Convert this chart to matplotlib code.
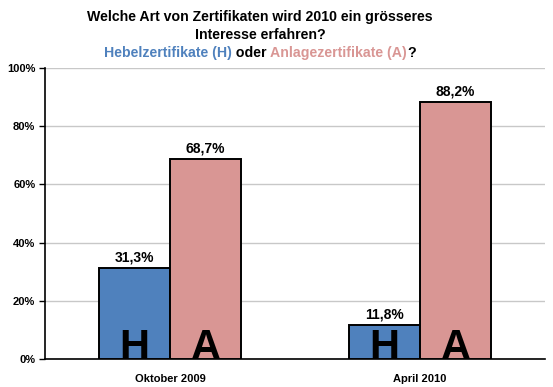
import numpy as np
import matplotlib.pyplot as plt

plt.rcParams['font.family'] = ['Liberation Sans', 'DejaVu Sans']

categories = ["Oktober 2009", "April 2010"]
hebel = [31.3, 11.8]
anlage = [68.7, 88.2]
yticks = [0, 20, 40, 60, 80, 100]

blue = "#4F81BD"
pink = "#D99694"

fig = plt.figure(figsize=(5.53, 3.87), dpi=100)
ax = fig.add_axes([0.0814, 0.0724, 0.904, 0.752])

x = np.arange(len(categories))
w = 0.285
bh = ax.bar(x - w / 2, hebel, w, color=blue, edgecolor="black", linewidth=1.4, zorder=3)
ba = ax.bar(x + w / 2, anlage, w, color=pink, edgecolor="black", linewidth=1.4, zorder=3)

for bars, vals, letter in [(bh, hebel, "H"), (ba, anlage, "A")]:
    for b, v in zip(bars, vals):
        cx = b.get_x() + b.get_width() / 2
        ax.text(cx, v + 1.2, f"{v:.1f}%".replace(".", ","), ha="center", va="bottom",
                fontsize=10, fontweight="bold", zorder=4)
        ax.text(cx, 0, letter, ha="center", va="baseline", fontsize=30,
                fontweight="bold", zorder=4)

ax.set_xlim(-0.5, 1.5)
ax.set_ylim(0, 100)
ax.set_yticks(yticks)
ax.set_yticklabels([f"{t}%" for t in yticks], fontsize=8, fontweight="bold")
ax.set_xticks(x)
ax.set_xticklabels(categories, fontsize=8, fontweight="bold")
ax.tick_params(axis="x", length=0, pad=11)
ax.tick_params(axis="y", length=4, width=1, direction="out", pad=3)
ax.yaxis.grid(True, color="#c8c8c8", linewidth=1, zorder=0)
for s in ["top", "right"]:
    ax.spines[s].set_visible(False)
for s in ["left", "bottom"]:
    ax.spines[s].set_linewidth(1.2)

tx = 260 / 553
fig.text(tx, 1 - 17 / 387, "Welche Art von Zertifikaten wird 2010 ein grösseres",
         ha="center", va="center", fontsize=10.2, fontweight="bold")
fig.text(tx, 1 - 35 / 387, "Interesse erfahren?",
         ha="center", va="center", fontsize=10.2, fontweight="bold")

# third title line in several colours, centred as a whole
parts = [("Hebelzertifikate (H)", blue), (" oder ", "black"),
         ("Anlagezertifikate (A)", pink), ("?", "black")]
fig.canvas.draw()
r = fig.canvas.get_renderer()
texts = []
widths = []
for s, c in parts:
    t = fig.text(0, 1 - 53 / 387, s, ha="left", va="center", fontsize=10.2,
                 fontweight="bold", color=c)
    texts.append(t)
    widths.append(t.get_window_extent(r).width)
W = fig.bbox.width
start = tx * W - sum(widths) / 2
for t, wd in zip(texts, widths):
    t.set_x(start / W)
    start += wd

fig.savefig("out.png", dpi=100)
